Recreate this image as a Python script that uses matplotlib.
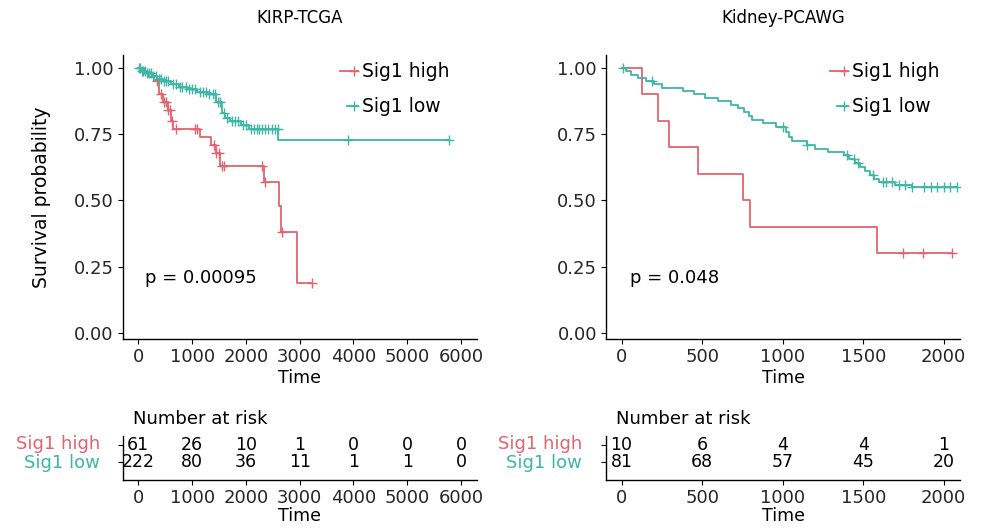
import matplotlib
matplotlib.use("Agg")
import matplotlib.pyplot as plt
import numpy as np

plt.rcParams['font.family'] = ['DejaVu Sans']

RED = '#E2646F'
TEAL = '#3FB5A6'
TXT = '#262626'

# KIRP-TCGA: Kaplan-Meier steps (time, survival) and censor times
kirp_high_t = [0, 100, 200, 300, 380, 450, 560, 600, 640, 1150, 1350, 1450, 1520,
               2330, 2620, 2660, 2950]
kirp_high_s = [1.0, 0.983, 0.967, 0.95, 0.90, 0.87, 0.84, 0.80, 0.77, 0.74, 0.71,
               0.68, 0.63, 0.57, 0.48, 0.38, 0.19]
kirp_high_cens = [350, 420, 480, 520, 560, 580, 620, 700, 1050, 1100, 1400, 1450,
                  1500, 1550, 1600, 2300, 2350, 2680, 3235]

kirp_low_t = [0, 60, 150, 250, 350, 450, 600, 750, 900, 1100, 1300, 1450, 1550,
              1620, 1700, 1900, 2050, 2600]
kirp_low_s = [1.0, 0.99, 0.98, 0.97, 0.96, 0.95, 0.94, 0.93, 0.92, 0.91, 0.90,
              0.87, 0.83, 0.81, 0.80, 0.785, 0.77, 0.728]
kirp_low_cens = [20, 40, 70, 90, 120, 160, 200, 230, 280, 320, 380, 420, 480, 520,
                 560, 640, 700, 780, 820, 880, 950, 1000, 1050, 1150, 1200, 1250,
                 1320, 1380, 1420, 1480, 1520, 1600, 1650, 1750, 1800, 1850, 1950,
                 2000, 2100, 2150, 2200, 2250, 2300, 2350, 2420, 2480, 2550, 2590,
                 3890, 5780]

# Kidney-PCAWG
pcawg_high_t = [0, 124, 228, 296, 476, 756, 797, 1584]
pcawg_high_s = [1.0, 0.9, 0.8, 0.7, 0.6, 0.5, 0.4, 0.3]
pcawg_high_cens = [1749, 1873, 2050]

pcawg_low_t = [0, 30, 60, 100, 150, 200, 250, 380, 450, 520, 600, 680, 720, 760,
               790, 810, 880, 960, 1020, 1040, 1060, 1150, 1200, 1280, 1380, 1410,
               1450, 1480, 1510, 1540, 1570, 1600, 1700, 1800]
pcawg_low_s = [1.0, 0.988, 0.975, 0.963, 0.95, 0.938, 0.926, 0.914, 0.90, 0.888,
               0.876, 0.86, 0.848, 0.835, 0.82, 0.805, 0.792, 0.778, 0.76, 0.74,
               0.725, 0.71, 0.695, 0.683, 0.67, 0.655, 0.64, 0.625, 0.61, 0.595,
               0.582, 0.57, 0.56, 0.55]
pcawg_low_cens = [10, 190, 1000, 1150, 1400, 1440, 1470, 1560, 1620, 1640, 1680,
                  1720, 1760, 1800, 1880, 1920, 1960, 2000, 2040, 2080]

# number at risk tables
kirp_breaks = [0, 1000, 2000, 3000, 4000, 5000, 6000]
kirp_risk_high = [61, 26, 10, 1, 0, 0, 0]
kirp_risk_low = [222, 80, 36, 11, 1, 1, 0]

pcawg_breaks = [0, 500, 1000, 1500, 2000]
pcawg_risk_high = [10, 6, 4, 4, 1]
pcawg_risk_low = [81, 68, 57, 45, 20]

groups = ['Sig1 high', 'Sig1 low']


def surv_at(times, surv, t):
    idx = np.searchsorted(times, t, side='right') - 1
    return np.asarray(surv)[idx]


def km_curve(ax, times, surv, cens, color):
    end = max(max(times), max(cens))
    ax.step(list(times) + [end], list(surv) + [surv[-1]], where='post',
            color=color, lw=1.3)
    ax.plot(cens, surv_at(times, surv, cens), ls='none', marker='+',
            ms=7, mew=1.0, color=color)


def style_axis(ax):
    for s in ['top', 'right']:
        ax.spines[s].set_visible(False)
    for s in ['left', 'bottom']:
        ax.spines[s].set_linewidth(1.0)
    ax.tick_params(length=3.5, width=0.8, labelsize=13, pad=3,
                   labelcolor=TXT)


def main_panel(ax, title, curves, pval, xlim, ticks, leg_x, p_x):
    for times, surv, cens, color in curves:
        km_curve(ax, times, surv, cens, color)
    ax.set_xlim(xlim)
    ax.set_ylim(-0.0226, 1.049)
    ax.set_xticks(ticks)
    ax.set_yticks([0, 0.25, 0.5, 0.75, 1.0])
    ax.set_yticklabels(['0.00', '0.25', '0.50', '0.75', '1.00'])
    style_axis(ax)
    ax.set_xlabel('Time', fontsize=12.5, labelpad=2)
    ax.set_title(title, fontsize=12, pad=23)
    ax.text(p_x, 0.216, 'p = ' + pval, transform=ax.transAxes, fontsize=13,
            va='center')
    # legend: short line with censor mark, then label
    for k, (name, color) in enumerate(zip(groups, [RED, TEAL])):
        y = 0.942 - 0.122 * k
        x0 = leg_x - 0.062 + 0.02 * k
        ax.plot([x0, leg_x - 0.012], [y, y], transform=ax.transAxes,
                color=color, lw=1.3, clip_on=False)
        ax.plot([leg_x - 0.022], [y], transform=ax.transAxes, marker='+',
                ms=7, mew=1.0, color=color, clip_on=False)
        ax.text(leg_x, y, name, transform=ax.transAxes, fontsize=13.5,
                va='center')


def risk_table(ax, breaks, high, low, xlim, label_x):
    for b, h, l in zip(breaks, high, low):
        ax.text(b, 1, str(h), ha='center', va='center', fontsize=12.5)
        ax.text(b, 0, str(l), ha='center', va='center', fontsize=12.5)
    ax.set_xlim(xlim)
    ax.set_ylim(-1.07, 1.53)
    ax.set_xticks(breaks)
    ax.set_yticks([1, 0])
    ax.set_yticklabels([])
    style_axis(ax)
    ax.set_xlabel('Time', fontsize=12.5, labelpad=0)
    for name, y, color in zip(groups, [1.05, -0.05], [RED, TEAL]):
        ax.text(label_x, y, name, transform=ax.get_yaxis_transform(),
                ha='right', va='center', fontsize=13, color=color)
    ax.text(0.028, 1.38, 'Number at risk', transform=ax.transAxes,
            fontsize=13, va='center')


fig = plt.figure(figsize=(10, 5.32), dpi=100)

ax1 = fig.add_axes([0.1227, 0.3628, 0.354, 0.5338])
main_panel(ax1, 'KIRP-TCGA',
           [(kirp_high_t, kirp_high_s, kirp_high_cens, RED),
            (kirp_low_t, kirp_low_s, kirp_low_cens, TEAL)],
           '0.00095', (-290, 6290), kirp_breaks, 0.676, 0.063)
ax1.set_ylabel('Survival probability', fontsize=13.5, labelpad=16)

ax2 = fig.add_axes([0.606, 0.3628, 0.354, 0.5338])
main_panel(ax2, 'Kidney-PCAWG',
           [(pcawg_high_t, pcawg_high_s, pcawg_high_cens, RED),
            (pcawg_low_t, pcawg_low_s, pcawg_low_cens, TEAL)],
           '0.048', (-97, 2101), pcawg_breaks, 0.695, 0.068)

ax3 = fig.add_axes([0.1227, 0.0977, 0.354, 0.0827])
risk_table(ax3, kirp_breaks, kirp_risk_high, kirp_risk_low, (-290, 6290), -0.064)

ax4 = fig.add_axes([0.606, 0.0977, 0.354, 0.0827])
risk_table(ax4, pcawg_breaks, pcawg_risk_high, pcawg_risk_low, (-97, 2101), -0.068)

fig.savefig('out.png', dpi=100)
